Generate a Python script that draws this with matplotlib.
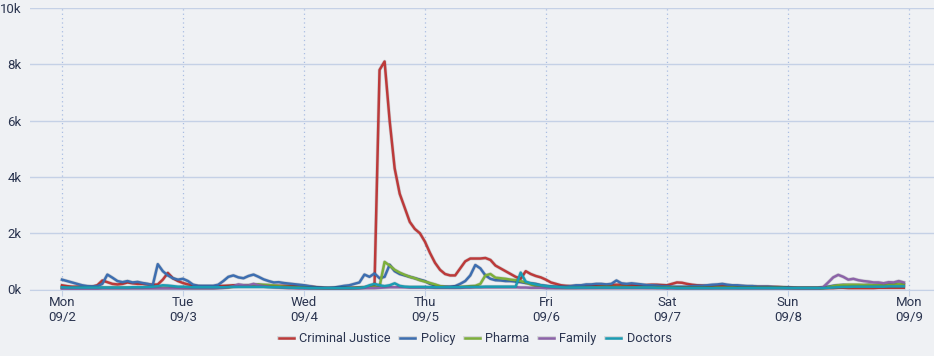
import numpy as np
import matplotlib
matplotlib.use("Agg")
import matplotlib.pyplot as plt
import matplotlib.patheffects as pe
from matplotlib.ticker import FuncFormatter

# Hourly counts, Mon 09/2 00:00 -> Sun 09/8 23:00 (one list of 24 per day)
criminal_justice = (
    [150, 120, 100, 100, 100, 100, 100, 150, 320, 260, 200, 180, 200, 250, 220, 200, 200, 180, 170, 180, 350, 590, 400, 300]
    + [230, 180, 150, 120, 110, 110, 110, 120, 130, 140, 150, 150, 150, 150, 150, 150, 140, 140, 130, 130, 130, 130, 140, 140]
    + [130, 110, 90, 70, 50, 40, 40, 40, 50, 50, 60, 70, 80, 100, 150, 7800, 8100, 6000, 4300, 3400, 2900, 2400, 2150, 2000]
    + [1700, 1300, 950, 700, 550, 500, 500, 750, 1000, 1100, 1100, 1100, 1120, 1050, 850, 750, 650, 550, 450, 380, 650, 550, 480, 430]
    + [350, 250, 200, 150, 130, 120, 120, 130, 130, 140, 150, 150, 160, 160, 170, 170, 160, 160, 150, 150, 160, 170, 170, 160]
    + [150, 200, 250, 240, 200, 170, 150, 140, 130, 130, 130, 120, 120, 120, 120, 120, 110, 110, 100, 100, 100, 90, 90, 80]
    + [70, 60, 50, 50, 50, 50, 50, 50, 50, 50, 60, 60, 50, 50, 50, 50, 50, 50, 60, 60, 60, 60, 60, 60]
)
policy = (
    [350, 300, 250, 200, 150, 120, 110, 120, 200, 530, 420, 300, 260, 300, 250, 270, 230, 200, 150, 900, 650, 500, 400, 350]
    + [380, 300, 170, 130, 130, 130, 130, 170, 300, 450, 500, 430, 400, 480, 530, 450, 360, 300, 250, 260, 230, 210, 190, 170]
    + [150, 120, 90, 70, 60, 60, 70, 100, 130, 150, 200, 250, 530, 450, 570, 400, 450, 880, 650, 550, 500, 450, 400, 350]
    + [300, 200, 150, 100, 100, 100, 120, 200, 300, 500, 870, 750, 500, 380, 330, 320, 300, 300, 280, 260, 230, 220, 200, 150]
    + [130, 110, 100, 100, 100, 120, 150, 150, 180, 180, 200, 200, 180, 200, 320, 220, 200, 220, 200, 180, 150, 150, 140, 120]
    + [120, 100, 100, 100, 100, 120, 130, 130, 150, 170, 180, 200, 170, 150, 150, 130, 120, 120, 100, 100, 100, 90, 80, 80]
    + [70, 60, 60, 60, 60, 60, 60, 80, 100, 130, 150, 160, 150, 150, 140, 150, 160, 150, 170, 160, 180, 200, 200, 180]
)
pharma = (
    [60, 60, 50, 50, 50, 50, 50, 50, 60, 60, 60, 60, 60, 60, 60, 60, 60, 60, 60, 60, 60, 60, 60, 60]
    + [50, 50, 50, 50, 50, 50, 50, 60, 70, 80, 100, 120, 130, 140, 160, 180, 170, 160, 140, 120, 100, 90, 80, 70]
    + [60, 50, 50, 40, 40, 40, 40, 40, 50, 50, 50, 60, 70, 80, 100, 100, 980, 850, 700, 600, 520, 450, 400, 330]
    + [280, 230, 180, 120, 90, 80, 80, 90, 100, 120, 130, 200, 500, 550, 420, 400, 380, 350, 330, 300, 250, 180, 120, 100]
    + [80, 70, 60, 60, 60, 60, 60, 70, 70, 80, 80, 90, 90, 90, 90, 90, 90, 80, 80, 80, 70, 70, 70, 70]
    + [70, 70, 60, 60, 60, 60, 60, 60, 60, 60, 70, 70, 70, 70, 60, 60, 60, 60, 60, 60, 60, 60, 60, 60]
    + [50, 50, 50, 50, 50, 50, 50, 50, 80, 120, 150, 160, 170, 170, 170, 160, 160, 150, 150, 160, 170, 180, 190, 180]
)
family = (
    [30, 30, 30, 30, 30, 30, 30, 30, 40, 40, 40, 40, 40, 40, 40, 40, 40, 40, 40, 40, 40, 40, 40, 40]
    + [40, 40, 40, 40, 40, 40, 40, 50, 60, 80, 120, 180, 150, 140, 200, 150, 120, 100, 80, 70, 60, 50, 50, 40]
    + [40, 40, 40, 40, 40, 40, 40, 40, 40, 40, 40, 40, 50, 50, 50, 60, 70, 80, 80, 80, 80, 70, 70, 70]
    + [70, 70, 60, 60, 60, 60, 60, 60, 70, 70, 80, 80, 80, 80, 80, 80, 80, 80, 80, 70, 70, 60, 60, 60]
    + [50, 50, 50, 50, 50, 50, 50, 50, 50, 50, 50, 50, 50, 50, 50, 50, 50, 50, 50, 50, 50, 50, 50, 50]
    + [40, 40, 40, 40, 40, 40, 40, 40, 40, 40, 40, 40, 40, 40, 40, 40, 40, 40, 40, 40, 40, 40, 40, 40]
    + [40, 40, 40, 40, 40, 40, 40, 80, 250, 430, 520, 450, 350, 380, 330, 300, 280, 250, 250, 220, 260, 250, 300, 250]
)
doctors = (
    [80, 70, 70, 70, 70, 70, 70, 70, 70, 70, 70, 70, 70, 70, 80, 80, 80, 90, 100, 120, 150, 140, 120, 100]
    + [100, 90, 80, 80, 80, 80, 80, 80, 80, 90, 90, 90, 90, 90, 90, 90, 90, 80, 80, 80, 70, 70, 60, 60]
    + [60, 50, 50, 50, 50, 50, 50, 50, 50, 50, 50, 60, 80, 150, 200, 150, 120, 150, 220, 130, 100, 90, 90, 90]
    + [90, 80, 80, 80, 80, 80, 80, 80, 90, 90, 90, 90, 100, 100, 100, 100, 100, 100, 100, 600, 280, 220, 180, 150]
    + [120, 100, 90, 80, 70, 70, 70, 70, 70, 70, 70, 70, 70, 70, 70, 70, 70, 70, 70, 70, 70, 70, 60, 60]
    + [60, 60, 50, 50, 50, 50, 50, 50, 50, 50, 50, 50, 50, 50, 50, 50, 50, 50, 50, 50, 50, 50, 50, 50]
    + [50, 50, 50, 50, 50, 50, 50, 50, 60, 70, 80, 90, 90, 100, 100, 100, 100, 100, 100, 100, 110, 110, 110, 110]
)

series_names = ["Criminal Justice", "Policy", "Pharma", "Family", "Doctors"]
series_data = [criminal_justice, policy, pharma, family, doctors]
colors = ["#bc3a3a", "#3d6eb0", "#7daf3b", "#8c63a8", "#1a9cb3"]
day_labels = ["Mon\n09/2", "Tue\n09/3", "Wed\n09/4", "Thu\n09/5", "Fri\n09/6", "Sat\n09/7", "Sun\n09/8", "Mon\n09/9"]

bg = "#eff1f4"
text_col = "#2b3550"
plt.rcParams["font.family"] = ["Roboto", "DejaVu Sans"]

fig = plt.figure(figsize=(9.34, 3.56), dpi=100, facecolor=bg)
ax = fig.add_axes([30 / 934, 1 - 289.5 / 356, 904 / 934, 281.5 / 356])
ax.set_facecolor(bg)

hours = np.arange(len(criminal_justice))
for name, vals, c in zip(series_names, series_data, colors):
    ax.plot(hours, vals, color=c, lw=1.8, label=name, solid_joinstyle="round",
            path_effects=[pe.Stroke(linewidth=2.7, foreground="black", alpha=0.12), pe.Normal()])

ax.set_xlim(-6.35, 173)
ax.set_ylim(0, 10000)
ax.set_yticks(np.arange(0, 10001, 2000))
ax.yaxis.set_major_formatter(FuncFormatter(lambda v, p: f"{int(v / 1000)}k"))
ax.set_xticks(np.arange(0, 169, 24))
ax.set_xticklabels(day_labels)

ax.grid(axis="y", color="#c5d1e6", lw=1, ls="-")
ax.grid(axis="x", color="#a9bde2", lw=0.9, ls=(0, (1, 2.5)))
ax.set_axisbelow(True)
for s in ["top", "right", "left"]:
    ax.spines[s].set_visible(False)
ax.spines["bottom"].set_color("#c5d1e6")

ax.tick_params(axis="y", length=0, pad=6, labelsize=9.5, labelcolor=text_col)
ax.tick_params(axis="x", length=4, color="#c5d1e6", pad=1, labelsize=9.5, labelcolor=text_col)
for lbl in ax.get_xticklabels():
    lbl.set_linespacing(1.15)

fig.legend(loc="center", bbox_to_anchor=(0.5086, 0.048), ncol=5, frameon=False,
           fontsize=9.2, handlelength=1.2, handletextpad=0.4, columnspacing=0.75,
           labelcolor=text_col)

fig.savefig("out.png", dpi=100, facecolor=bg)
